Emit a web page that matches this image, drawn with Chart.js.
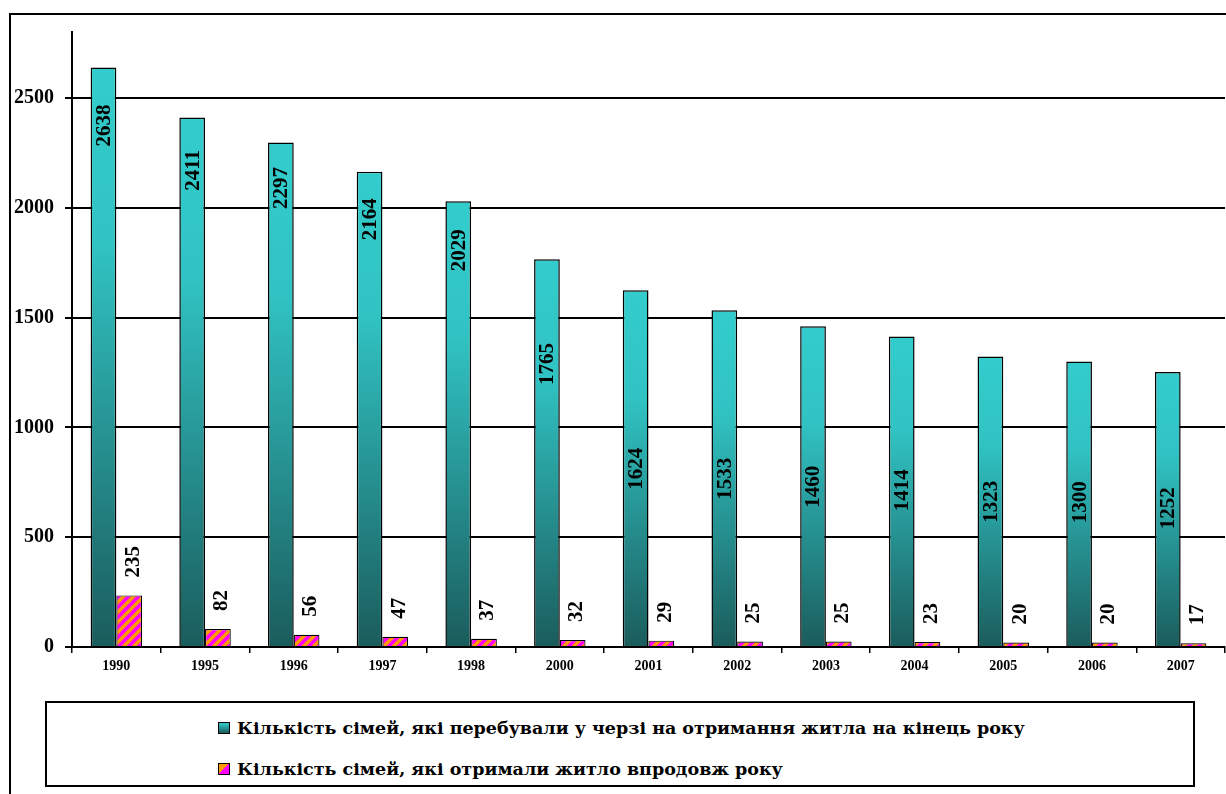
<!DOCTYPE html>
<html>
<head>
<meta charset="utf-8">
<title>Черга на житло</title>
<script src="https://cdn.jsdelivr.net/npm/chart.js@4.4.1/dist/chart.umd.min.js"></script>
<style>
  html, body { margin: 0; padding: 0; background: #fff; overflow: hidden; }
  #wrap { position: relative; width: 1226px; height: 794px; }
  #frame { position: absolute; left: 9px; top: 13px; width: 1300px; height: 900px; border: 2px solid #000; pointer-events: none; }
  #legend {
    position: absolute; left: 45px; top: 701px; width: 1146px; height: 82px;
    border: 2px solid #000; background: #fff;
    font-family: "DejaVu Serif", serif; font-weight: bold; font-size: 17.5px;
  }
  .item { position: absolute; left: 171px; display: flex; align-items: center; white-space: nowrap; }
  .box { width: 10px; height: 10px; border: 1px solid #000; margin-right: 7px; }
</style>
</head>
<body>
<div id="wrap">
  <canvas id="barCanvas" width="1226" height="794"></canvas>
  <div id="frame"></div>
  <div id="legend"></div>
</div>
<script>
// données
const years = ['1990', '1995', '1996', '1997', '1998', '2000', '2001', '2002', '2003', '2004', '2005', '2006', '2007'];
const inQueue = [2638, 2411, 2297, 2164, 2029, 1765, 1624, 1533, 1460, 1414, 1323, 1300, 1252];
const gotHousing = [235, 82, 56, 47, 37, 32, 29, 25, 25, 23, 20, 20, 17];
const yTicks = [0, 500, 1000, 1500, 2000, 2500];
const seriesNames = [
    'Кількість сімей, які перебували у черзі на отримання житла на кінець року',
    'Кількість сімей, які отримали житло впродовж року'
];

// where the value label sits inside each teal bar (share of the bar height)
const labelShare = [0.9, 0.9, 0.91, 0.9, 0.89, 0.73, 0.5, 0.5, 0.5, 0.505, 0.5, 0.507, 0.505];

const FONT = '"Liberation Serif", serif';

// hatch pattern for the second series
function makeStripes() {
    const c = document.createElement('canvas');
    c.width = 10; c.height = 10;
    const g = c.getContext('2d');
    g.fillStyle = '#ff00ff';
    g.fillRect(0, 0, 10, 10);
    g.strokeStyle = '#ff9900';
    g.lineWidth = 3.5;
    [[-5, 5, 5, -5], [0, 10, 10, 0], [5, 15, 15, 5]].forEach(l => {
        g.beginPath(); g.moveTo(l[0], l[1]); g.lineTo(l[2], l[3]); g.stroke();
    });
    return g.createPattern(c, 'repeat');
}

function tealGradient(context) {
    const chart = context.chart;
    const y = chart.scales.y;
    if (!y || context.dataIndex === undefined) return '#33cccc';
    const top = y.getPixelForValue(inQueue[context.dataIndex]);
    const bottom = y.getPixelForValue(0);
    if (!isFinite(top) || !isFinite(bottom)) return '#33cccc';
    const grad = chart.ctx.createLinearGradient(0, top, 0, bottom);
    grad.addColorStop(0, '#33cccc');
    grad.addColorStop(0.3, '#31c3c3');
    grad.addColorStop(1, '#1b5c5c');
    return grad;
}

// rotated value labels
const valueLabels = {
    id: 'valueLabels',
    afterDatasetsDraw(chart) {
        const ctx = chart.ctx;
        const y = chart.scales.y;
        ctx.save();
        ctx.fillStyle = '#000';
        ctx.textBaseline = 'middle';
        chart.getDatasetMeta(0).data.forEach((bar, i) => {
            const cy = y.getPixelForValue(inQueue[i] * labelShare[i]);
            ctx.save();
            ctx.translate(bar.x + 1, cy);
            ctx.rotate(-Math.PI / 2);
            ctx.textAlign = 'center';
            ctx.font = 'bold 21px ' + FONT;
            ctx.fillText(String(inQueue[i]), 0, 0);
            ctx.restore();
        });
        chart.getDatasetMeta(1).data.forEach((bar, i) => {
            ctx.save();
            ctx.translate(bar.x + 4, bar.y - 18);
            ctx.rotate(-Math.PI / 2);
            ctx.textAlign = 'left';
            ctx.font = 'bold 21px ' + FONT;
            ctx.fillText(String(gotHousing[i]), 0, 0);
            ctx.restore();
        });
        ctx.restore();
    }
};

const barCanvas = document.getElementById('barCanvas');
const barChart = new Chart(barCanvas, {
    type: 'bar',
    data: {
        labels: years,
        datasets: [{
            label: seriesNames[0],
            data: inQueue,
            backgroundColor: tealGradient,
            borderColor: '#000',
            borderWidth: 1.5,
            categoryPercentage: 0.58,
            barPercentage: 1.0
        }, {
            label: seriesNames[1],
            data: gotHousing,
            backgroundColor: makeStripes(),
            borderColor: '#000',
            borderWidth: 1.2,
            categoryPercentage: 0.58,
            barPercentage: 1.0
        }]
    },
    options: {
        responsive: false,
        animation: false,
        layout: { padding: { left: 0, top: 32, right: 1, bottom: 0 } },
        plugins: {
            legend: { display: false },
            tooltip: { enabled: false }
        },
        scales: {
            x: {
                grid: { display: true, drawOnChartArea: false, drawTicks: true, tickLength: 6, color: '#000', lineWidth: 1.5, offset: true },
                border: { display: true, color: '#000', width: 2 },
                ticks: { color: '#000', font: { family: FONT, size: 14, weight: 'bold' }, padding: 5, maxRotation: 0 },
                afterFit(scale) { scale.height = 147; }
            },
            y: {
                min: 0,
                max: 2800,
                afterBuildTicks(scale) {
                    scale.ticks = yTicks.map(v => ({ value: v }));
                },
                grid: { color: '#000', lineWidth: 2, tickLength: 7 },
                border: { display: true, color: '#000', width: 2 },
                ticks: {
                    color: '#000',
                    font: { family: FONT, size: 20, weight: 'bold' },
                    padding: 11,
                    callback: v => String(v)
                },
                afterFit(scale) { scale.width = 72; }
            }
        }
    },
    plugins: [valueLabels]
});

// légende
function buildLegend() {
    const legend = document.getElementById('legend');
    const marks = [
        'linear-gradient(180deg, #33cccc 0%, #1b5c5c 100%)',
        'linear-gradient(135deg, #ff9900 50%, #ff00ff 50%)'
    ];
    const tops = [15, 56];
    seriesNames.forEach((name, i) => {
        const item = document.createElement('div');
        item.className = 'item';
        item.style.top = tops[i] + 'px';
        item.innerHTML = `<span class="box" style="background:${marks[i]}"></span><span>${name}</span>`;
        legend.appendChild(item);
    });
}
buildLegend();
</script>
</body>
</html>
